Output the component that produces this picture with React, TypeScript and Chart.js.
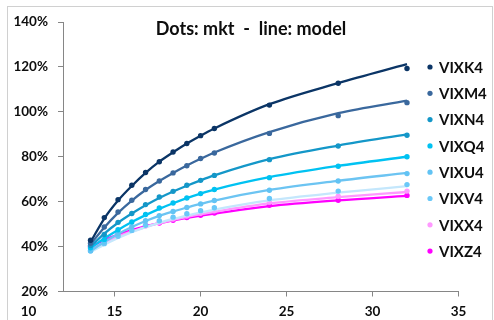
import React, { useEffect, useRef } from "react";
import { Chart, registerables } from "chart.js";

Chart.register(...registerables);

const TITLE = "Dots: mkt  -  line: model";
const X_TICKS = [10, 15, 20, 25, 30, 35];
const XS = [13.6, 14.4, 15.2, 16.0, 16.8, 17.6, 18.4, 19.2, 20.0, 20.8, 24, 28, 32];

const SERIES_NAMES = ["VIXK4", "VIXM4", "VIXN4", "VIXQ4", "VIXU4", "VIXV4", "VIXX4", "VIXZ4"];

// market (dots), in %
const MKT_K4 = [42.8, 52.9, 60.9, 67.3, 73.0, 77.8, 82.1, 85.9, 89.4, 92.6, 103.0, 112.7, 119.3];
const MKT_M4 = [41.5, 48.7, 55.4, 60.6, 65.4, 69.2, 72.8, 76.0, 79.2, 81.7, 90.4, 98.3, 104.1];
const MKT_N4 = [40.5, 45.4, 50.8, 54.7, 58.7, 62.1, 64.6, 67.3, 69.5, 71.7, 78.7, 84.8, 89.6];
const MKT_Q4 = [39.5, 43.2, 47.5, 51.0, 54.3, 57.2, 59.4, 61.6, 63.6, 65.4, 70.7, 75.8, 80.0];
const MKT_U4 = [38.2, 42.0, 45.8, 48.8, 51.5, 53.8, 55.6, 57.4, 59.0, 60.5, 65.1, 69.2, 72.5];
const MKT_V4 = [38.0, 41.3, 44.6, 47.2, 49.5, 51.5, 53.1, 54.6, 56.0, 57.3, 61.4, 64.7, 67.6];
const MKT_X4 = [39.0, 42.3, 45.0, 47.2, 49.2, 50.8, 52.3, 53.6, 54.8, 55.9, 59.8, 62.4, 64.7];
const MKT_Z4 = [40.1, 43.1, 45.4, 47.2, 49.4, 50.5, 51.7, 52.9, 53.9, 54.9, 58.4, 60.6, 62.8];

// model (lines), in %
const MOD_K4 = [42.0, 52.5, 60.5, 67.0, 72.8, 77.8, 82.0, 85.9, 89.4, 92.6, 103.4, 112.8, 121.2];
const MOD_M4 = [41.0, 48.5, 55.0, 60.5, 65.2, 69.2, 72.8, 76.1, 79.1, 81.9, 91.0, 99.4, 105.0];
const MOD_N4 = [40.0, 45.8, 50.6, 54.7, 58.4, 61.6, 64.5, 67.1, 69.5, 71.7, 78.9, 85.0, 90.0];
const MOD_Q4 = [39.3, 43.6, 47.4, 50.9, 54.0, 56.8, 59.3, 61.6, 63.6, 65.4, 70.9, 75.9, 80.0];
const MOD_U4 = [38.0, 42.0, 45.6, 48.7, 51.4, 53.7, 55.6, 57.4, 59.0, 60.5, 65.2, 69.3, 72.8];
const MOD_V4 = [37.6, 40.8, 43.8, 46.4, 48.7, 50.6, 52.3, 53.8, 55.2, 56.5, 60.6, 64.0, 66.9];
const MOD_X4 = [38.8, 41.8, 44.5, 46.8, 48.7, 50.4, 51.9, 53.2, 54.4, 55.5, 59.2, 62.0, 64.3];
const MOD_Z4 = [40.0, 42.9, 45.3, 47.3, 49.0, 50.4, 51.7, 52.8, 53.8, 54.7, 58.0, 60.6, 62.6];

const MKT = [MKT_K4, MKT_M4, MKT_N4, MKT_Q4, MKT_U4, MKT_V4, MKT_X4, MKT_Z4];
const MOD = [MOD_K4, MOD_M4, MOD_N4, MOD_Q4, MOD_U4, MOD_V4, MOD_X4, MOD_Z4];

const DOT_COLORS = ["#0b3566", "#3a689d", "#1497c8", "#00c2f2", "#62c3f4", "#6ac8f8", "#ff99ff", "#ff00ff"];
const LINE_COLORS = ["#0b3566", "#3a689d", "#1497c8", "#00c2f2", "#6cc4f2", "#c4e7fc", "#ff99ff", "#ff00ff"];

const FONT = "Lato, 'Open Sans', sans-serif";

const decorPlugin = {
  id: "decor",
  beforeDraw(chart: any) {
    const ctx = chart.ctx;
    ctx.save();
    ctx.fillStyle = "#ffffff";
    ctx.fillRect(0, 0, chart.width, chart.height);
    ctx.strokeStyle = "#d0d0d0";
    ctx.lineWidth = 1;
    ctx.strokeRect(7.5, 6.5, 485, 340);
    ctx.restore();
  },
  afterDraw(chart: any) {
    const ctx = chart.ctx;
    ctx.save();
    ctx.fillStyle = "#0d0d0d";
    ctx.font = `bold 18px ${FONT}`;
    ctx.textAlign = "center";
    ctx.textBaseline = "middle";
    ctx.fillText(TITLE, 251, 29.5);
    // legend
    ctx.font = `bold 15px ${FONT}`;
    ctx.textAlign = "left";
    SERIES_NAMES.forEach((name, i) => {
      const y = 67 + i * 26.3;
      ctx.fillStyle = DOT_COLORS[i];
      ctx.beginPath();
      ctx.arc(430, y, 2.6, 0, Math.PI * 2);
      ctx.fill();
      ctx.fillStyle = "#0d0d0d";
      ctx.fillText(name, 439, y + 1);
    });
    ctx.restore();
  },
};

export default function App() {
  const ref = useRef<HTMLCanvasElement | null>(null);
  useEffect(() => {
    if (!ref.current) return;
    const datasets: any[] = [];
    SERIES_NAMES.forEach((name, i) => {
      datasets.push({
        label: name + " mkt",
        data: XS.map((x, j) => ({ x, y: MKT[i][j] })),
        showLine: false,
        pointRadius: 2.7,
        pointBackgroundColor: DOT_COLORS[i],
        pointBorderWidth: 0,
        borderColor: DOT_COLORS[i],
      });
      datasets.push({
        label: name + " model",
        data: XS.map((x, j) => ({ x, y: MOD[i][j] })),
        showLine: true,
        pointRadius: 0,
        borderWidth: 2.3,
        borderColor: LINE_COLORS[i],
        cubicInterpolationMode: "monotone",
        fill: false,
      });
    });
    const chart = new Chart(ref.current, {
      type: "scatter",
      data: { datasets },
      options: {
        animation: false,
        responsive: false,
        events: [],
        layout: { padding: { left: 0, right: 35.4, top: 22, bottom: 0 } },
        plugins: { legend: { display: false }, tooltip: { enabled: false }, title: { display: false } },
        scales: {
          x: {
            type: "linear",
            min: 12,
            max: 35,
            afterBuildTicks: (s: any) => {
              s.ticks = X_TICKS.map((v) => ({ value: v }));
            },
            afterFit: (s: any) => {
              s.height = 28.5;
            },
            grid: {
              drawOnChartArea: false,
              drawTicks: true,
              tickLength: 5,
              color: (c: any) => (c.tick && c.tick.value === 10 ? "rgba(0,0,0,0)" : "#868686"),
            },
            border: { display: true, color: "#868686", width: 1 },
            ticks: {
              autoSkip: false,
              maxRotation: 0,
              padding: 7,
              color: "#0d0d0d",
              font: { family: FONT, size: 13.5, weight: "bold" },
              callback: (v: any) => String(v),
            },
          },
          y: {
            type: "linear",
            min: 20,
            max: 140,
            afterFit: (s: any) => {
              s.width = 63;
            },
            grid: { drawOnChartArea: false, drawTicks: true, tickLength: 5, color: "#868686" },
            border: { display: true, color: "#868686", width: 1 },
            ticks: {
              stepSize: 20,
              padding: 10,
              color: "#0d0d0d",
              font: { family: FONT, size: 13.5, weight: "bold" },
              callback: (v: any) => v + "%",
            },
          },
        },
      },
      plugins: [decorPlugin],
    });
    return () => chart.destroy();
  }, []);
  return (
    <div style={{ position: "fixed", left: 0, top: 0, width: 494, height: 320, background: "#fff" }}>
      <canvas ref={ref} width={494} height={320} />
    </div>
  );
}
